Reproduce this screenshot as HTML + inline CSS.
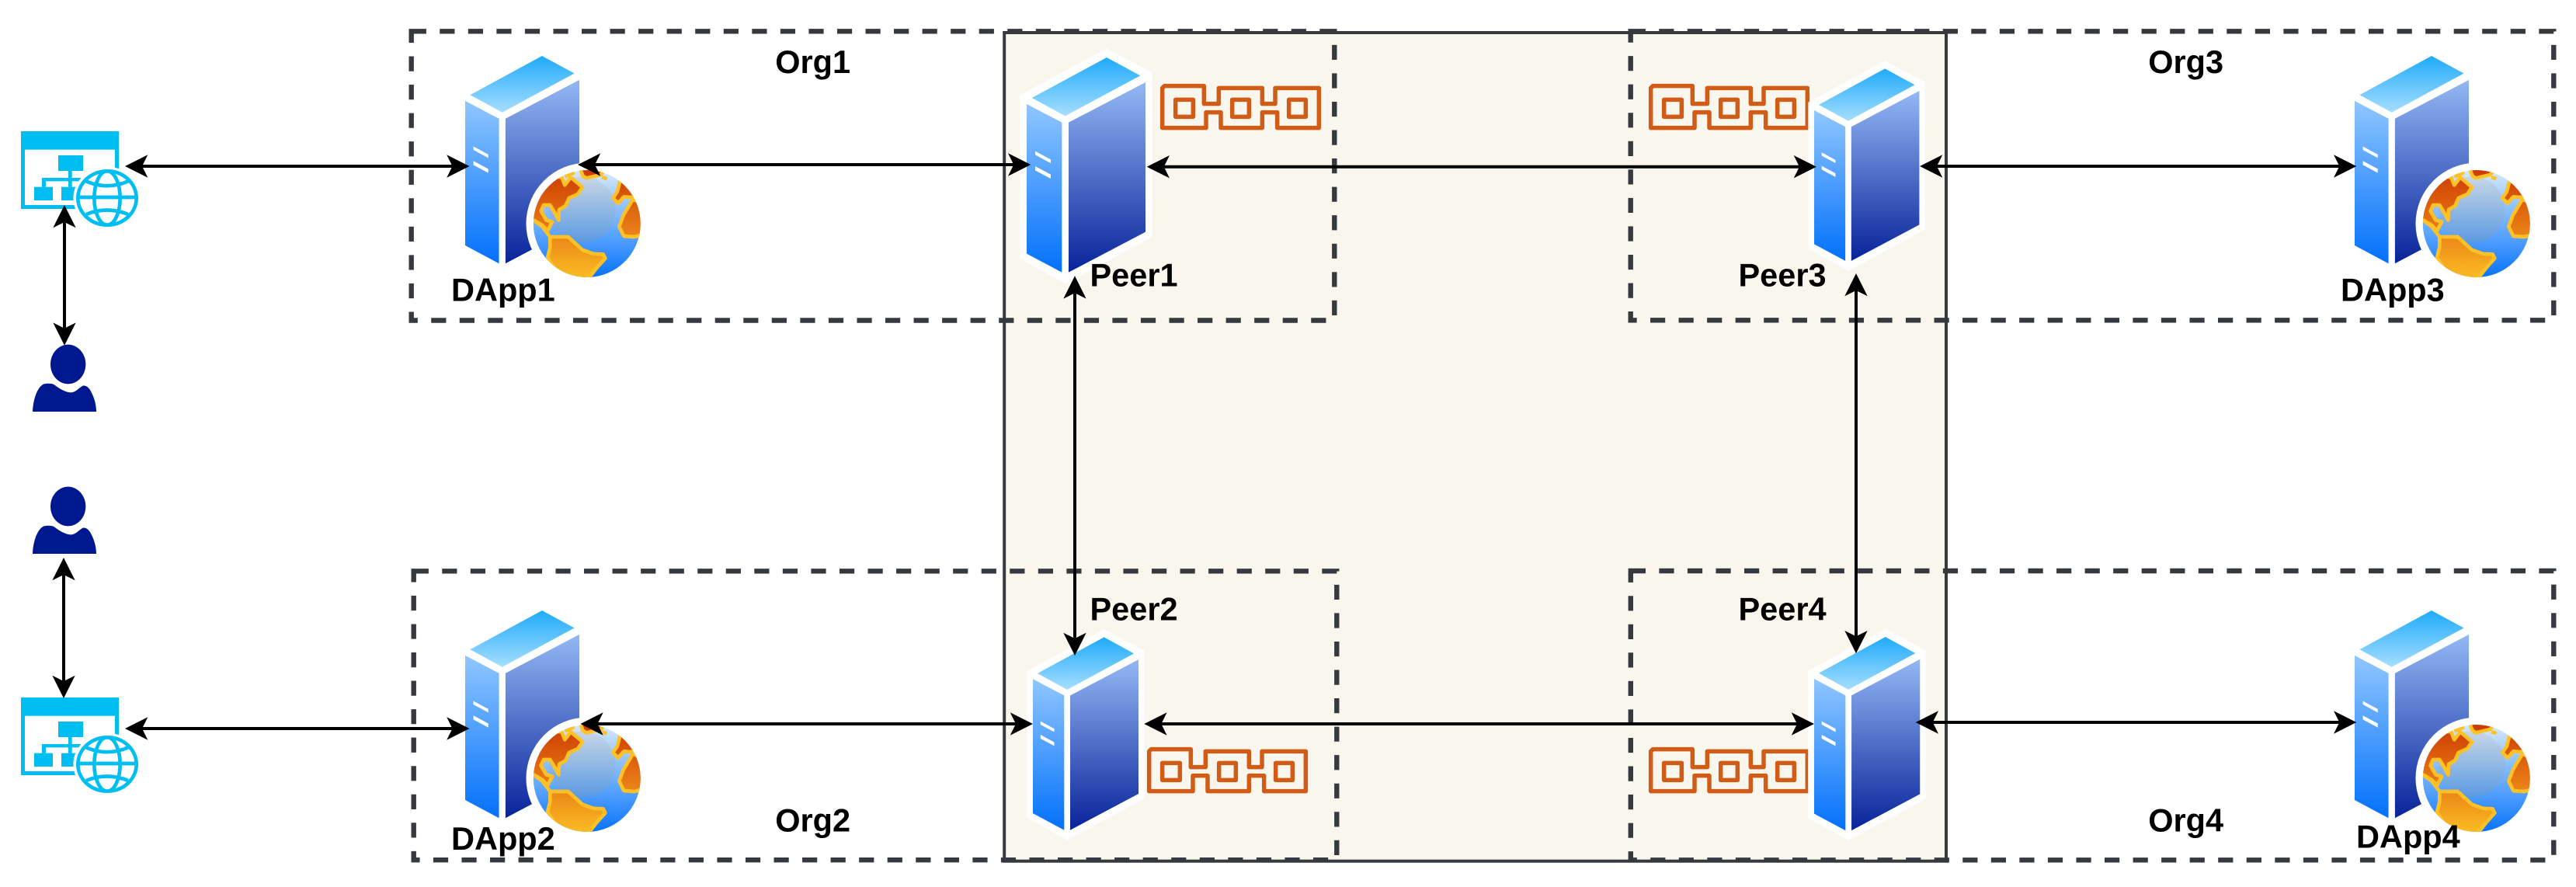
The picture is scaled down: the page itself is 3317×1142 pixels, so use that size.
<!DOCTYPE html>
<html lang="en">
<head>
<meta charset="utf-8">
<title>Org and Peer network</title>
<style>
html,body{margin:0;padding:0;background:#fff;width:3317px;height:1142px;overflow:hidden}
svg{display:block}
text{font-family:"Liberation Sans",Arial,sans-serif;font-weight:bold;font-size:41.5px;fill:#000}
</style>
</head>
<body>
<svg xmlns="http://www.w3.org/2000/svg" width="3317" height="1142" viewBox="0 0 3317 1142">
<defs>
  <linearGradient id="gt" x1="0" y1="0" x2="0" y2="1"><stop offset="0" stop-color="#1faafa"/><stop offset="1" stop-color="#a6deff"/></linearGradient>
  <linearGradient id="gl" x1="0" y1="0" x2="0" y2="1"><stop offset="0" stop-color="#90c6ff"/><stop offset="1" stop-color="#0371fb"/></linearGradient>
  <linearGradient id="gr" x1="0" y1="0" x2="0" y2="1"><stop offset="0" stop-color="#94b8f4"/><stop offset="1" stop-color="#08239a"/></linearGradient>
  <linearGradient id="gb" x1="0" y1="0" x2="0" y2="1"><stop offset="0" stop-color="#d8eafc"/><stop offset=".5" stop-color="#6fb0ff"/><stop offset="1" stop-color="#0873fb"/></linearGradient>
  <linearGradient id="gi" x1="0" y1="0" x2="0" y2="1"><stop offset="0" stop-color="#c8d6e6"/><stop offset="1" stop-color="#5a9ae2"/></linearGradient>
  <linearGradient id="gc" gradientUnits="userSpaceOnUse" x1="0" y1="88" x2="0" y2="500"><stop offset="0" stop-color="#cc3a00"/><stop offset=".55" stop-color="#e87c16"/><stop offset="1" stop-color="#fabb22"/></linearGradient>
  <clipPath id="gclip"><circle cx="347.5" cy="294" r="207"/></clipPath>

  <g id="srv">
    <polygon points="525,128 700,220 700,856 365,1035 190,938 190,308" fill="#fff"/>
    <polygon points="525,162 655,232 365,388 236,318" fill="url(#gt)"/>
    <polygon points="216,342 352,413 352,992 216,920" fill="url(#gl)"/>
    <polygon points="378,413 675,258 675,836 378,992" fill="url(#gr)"/>
    <polygon points="249,524 309,556 309,570 249,538" fill="#fff"/>
    <polygon points="249,582 309,614 309,630 249,598" fill="#fff"/>
  </g>

  <g id="globe" transform="scale(.33333) translate(-347.5,-294)">
    <circle cx="347.5" cy="294" r="235" fill="#fff"/>
    <circle cx="347.5" cy="294" r="207" fill="url(#gb)"/>
    <g clip-path="url(#gclip)">
      <circle cx="330" cy="240" r="128" fill="url(#gi)"/>
      <g fill="url(#gc)" stroke="#ffc125" stroke-width="14" stroke-linejoin="round">
        <path d="M320,78 L332,110 L345,118 L400,105 L425,78 Z"/>
        <path d="M250,115 L262,145 L285,115 L330,153 L312,180 L278,195 L265,225 L240,240 L238,280 L225,255 L205,222 L180,222 L170,245 L190,280 L213,287 L195,322 L175,300 L125,270 L125,105 Z"/>
        <path d="M475,130 L465,170 L448,195 L468,215 L490,190 L512,192 L540,190 L570,130 Z"/>
        <path d="M525,200 L488,262 L472,305 L490,342 L530,345 L575,335 L575,220 Z"/>
        <path d="M205,345 L275,345 L330,395 L372,410 L410,412 L418,428 L385,465 L350,510 L240,495 L195,425 L205,385 Z"/>
      </g>
      <path d="M143,282 L175,305 L205,345 M262,112 L300,96 M405,115 L425,120" fill="none" stroke="#ffc125" stroke-width="14"/>
    </g>
  </g>

  <g id="webapp" transform="translate(10,150) scale(.33333)">
    <rect x="51" y="57" width="378" height="300" fill="#00bef2"/>
    <rect x="66" y="128" width="348" height="214" fill="#fff"/>
    <rect x="195" y="150" width="96" height="60" fill="#00bef2"/>
    <rect x="234" y="210" width="14" height="62" fill="#00bef2"/>
    <rect x="132" y="237" width="160" height="13" fill="#00bef2"/>
    <rect x="132" y="237" width="15" height="35" fill="#00bef2"/>
    <rect x="102" y="272" width="72" height="52" fill="#00bef2"/>
    <rect x="207" y="272" width="60" height="52" fill="#00bef2"/>
    <ellipse cx="384" cy="315" rx="131" ry="121" fill="#fff"/>
    <g fill="none" stroke="#00bef2" stroke-width="14">
      <ellipse cx="384" cy="315" rx="113" ry="104"/>
      <ellipse cx="384" cy="315" rx="50" ry="104"/>
      <path d="M272,312 H496"/>
      <path d="M303,250 Q384,285 465,250"/>
      <path d="M303,378 Q384,345 465,378"/>
    </g>
  </g>

  <g id="user" transform="translate(10,150) scale(.33333)" fill="#00188f">
    <ellipse cx="233" cy="957" rx="68" ry="76"/>
    <path d="M96,1140 C98,1090 115,1045 138,1034 C150,1030 170,1030 180,1036 C200,1052 225,1066 245,1066 C262,1066 275,1048 290,1040 C300,1038 310,1044 318,1056 C332,1080 342,1110 342,1140 Z"/>
  </g>

  <g id="chain">
    <path d="M16,8 H169 V77 H226 V16 H394 V77 H444 V16 H613 V170 H452 V110 H394 V170 H234 V110 H177 V170 H8 V16 Z" fill="none" stroke="#d05c17" stroke-width="16.5" stroke-linejoin="round"/>
    <rect x="59" y="61" width="68" height="66" fill="none" stroke="#d05c17" stroke-width="16.5" stroke-linejoin="round"/>
    <rect x="278" y="61" width="65" height="66" fill="none" stroke="#d05c17" stroke-width="16.5" stroke-linejoin="round"/>
    <rect x="497" y="61" width="65" height="66" fill="none" stroke="#d05c17" stroke-width="16.5" stroke-linejoin="round"/>
  </g>

  <polygon id="a" points="0,0 -29.3,-14.7 -22,0 -29.3,14.7" fill="#000"/>
</defs>

<!-- central solid panel -->
<rect x="1293.2" y="42" width="1212.8" height="1066.7" fill="#f9f7ed" stroke="#36393d" stroke-width="4"/>

<!-- dashed org boxes -->
<g fill="none" stroke="#36393d" stroke-width="6.4" stroke-dasharray="19.2 17.35" stroke-linecap="butt">
  <rect x="529.7" y="40.3" width="1188.6" height="372.2"/>
  <rect x="532.7" y="735.3" width="1188.6" height="371.9"/>
  <rect x="2099.7" y="40.3" width="1188.6" height="372"/>
  <rect x="2099.8" y="735" width="1188.5" height="372.3"/>
</g>

<!-- chain icons -->
<use href="#chain" transform="translate(1494,108) scale(.33333)"/>
<use href="#chain" transform="translate(2123,108) scale(.33333)"/>
<use href="#chain" transform="translate(1477,962) scale(.33333)"/>
<use href="#chain" transform="translate(2123,962) scale(.33333)"/>

<!-- servers -->
<use href="#srv" transform="translate(529.8,19.8) scale(.3203,.322)"/>
<use href="#srv" transform="translate(529.8,733.8) scale(.3203,.322)"/>
<use href="#srv" transform="translate(2962.8,19.8) scale(.3203,.322)"/>
<use href="#srv" transform="translate(2962.8,733.8) scale(.3203,.322)"/>
<use href="#srv" transform="translate(1250,20) scale(.33333)"/>
<use href="#srv" transform="translate(2272.3,40) scale(.295,.2983)"/>
<use href="#srv" transform="translate(1266,771.9) scale(.2963,.2992)"/>
<use href="#srv" transform="translate(2271.8,771.3) scale(.297,.3003)"/>

<!-- globes -->
<use href="#globe" x="755.8" y="288"/>
<use href="#globe" x="755.8" y="1002"/>
<use href="#globe" x="3188.8" y="288"/>
<use href="#globe" x="3188.8" y="1002"/>

<!-- web apps and users -->
<use href="#webapp"/>
<use href="#webapp" y="729"/>
<use href="#user"/>
<use href="#user" y="183"/>

<!-- labels -->
<text x="998.2" y="94">Org1</text>
<text x="998.2" y="1070.5">Org2</text>
<text x="2766.2" y="94">Org3</text>
<text x="2766.2" y="1070.5">Org4</text>
<text x="581" y="387.5">DApp1</text>
<text x="581" y="1094">DApp2</text>
<text x="3014" y="387.5">DApp3</text>
<text x="3034" y="1091.7">DApp4</text>
<text x="1403.5" y="368.3">Peer1</text>
<text x="1403.5" y="798.3">Peer2</text>
<text x="2238.5" y="368.3">Peer3</text>
<text x="2238.5" y="798.3">Peer4</text>

<!-- connector lines -->
<g stroke="#000" stroke-width="4" fill="none">
  <path d="M180,214 H585"/>
  <path d="M765,212 H1307"/>
  <path d="M1497,214.7 H2319"/>
  <path d="M2492,214 H3014"/>
  <path d="M83,284 V425"/>
  <path d="M1384,375 V824"/>
  <path d="M2390,372 V821"/>
  <path d="M180,938 H585"/>
  <path d="M768,932 H1310"/>
  <path d="M1493,932 H2316"/>
  <path d="M2487,930 H3014"/>
  <path d="M82,738 V879"/>
</g>

<!-- arrowheads -->
<use href="#a" transform="translate(161,214) rotate(180)"/>
<use href="#a" transform="translate(604.5,214)"/>
<use href="#a" transform="translate(744,212) rotate(180)"/>
<use href="#a" transform="translate(1327.3,212)"/>
<use href="#a" transform="translate(1476.7,214.7) rotate(180)"/>
<use href="#a" transform="translate(2339,214.7)"/>
<use href="#a" transform="translate(2472,214) rotate(180)"/>
<use href="#a" transform="translate(3034.3,214)"/>
<use href="#a" transform="translate(83,264) rotate(-90)"/>
<use href="#a" transform="translate(83,444.7) rotate(90)"/>
<use href="#a" transform="translate(1384,355.3) rotate(-90)"/>
<use href="#a" transform="translate(1384,844) rotate(90)"/>
<use href="#a" transform="translate(2390,352) rotate(-90)"/>
<use href="#a" transform="translate(2390,841.3) rotate(90)"/>
<use href="#a" transform="translate(161,938) rotate(180)"/>
<use href="#a" transform="translate(604.5,938)"/>
<use href="#a" transform="translate(747.4,932) rotate(180)"/>
<use href="#a" transform="translate(1330,932)"/>
<use href="#a" transform="translate(1473.3,932) rotate(180)"/>
<use href="#a" transform="translate(2336,932)"/>
<use href="#a" transform="translate(2466.7,930) rotate(180)"/>
<use href="#a" transform="translate(3034.3,930)"/>
<use href="#a" transform="translate(82,718) rotate(-90)"/>
<use href="#a" transform="translate(82,899) rotate(90)"/>
</svg>
</body>
</html>
